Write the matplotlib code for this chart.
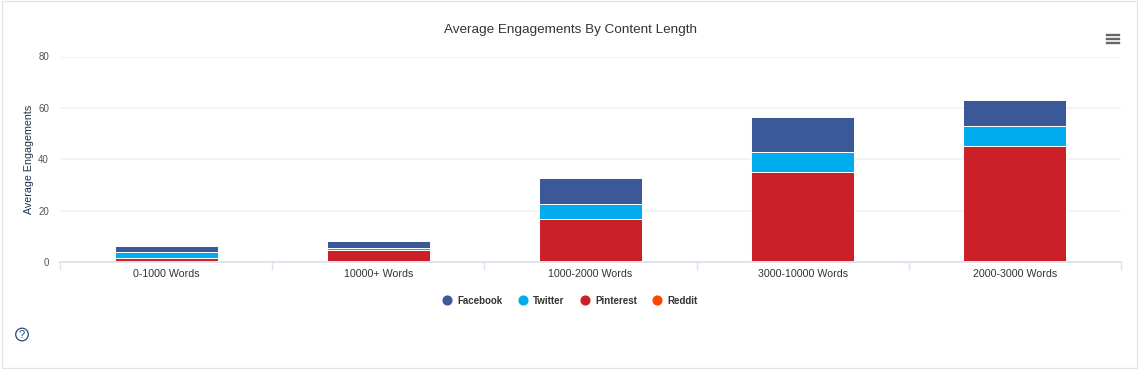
import matplotlib
matplotlib.use("Agg")
import matplotlib.pyplot as plt
from matplotlib.lines import Line2D
from matplotlib.patches import Rectangle, Circle
import numpy as np

W, H = 1139, 369

categories = ["0-1000 Words", "10000+ Words", "1000-2000 Words", "3000-10000 Words", "2000-3000 Words"]
reddit = [0.0, 0.0, 0.0, 0.0, 0.0]
pinterest = [1.5, 4.6, 16.6, 35.0, 45.1]
twitter = [2.3, 0.7, 5.9, 7.7, 8.0]
facebook = [2.3, 2.8, 10.3, 13.9, 10.0]
y_ticks = [0, 20, 40, 60, 80]

series_names = ["Facebook", "Twitter", "Pinterest", "Reddit"]
series_colors = ["#3b5998", "#00acee", "#cb2027", "#ff4500"]

plt.rcParams["font.family"] = ["Liberation Sans", "DejaVu Sans"]

fig = plt.figure(figsize=(W / 100, H / 100), dpi=100)
ax = fig.add_axes([60 / W, 1 - 262 / H, (1121 - 60) / W, (262 - 56.5) / H])

# stack bottom up, same order as the highcharts original
x = np.arange(len(categories))
bottom = np.zeros(len(categories))
for vals, col in [(reddit, series_colors[3]), (pinterest, series_colors[2]),
                  (twitter, series_colors[1]), (facebook, series_colors[0])]:
    vals = np.array(vals)
    ax.bar(x, vals, 0.485, bottom=bottom, color=col, edgecolor="white", linewidth=0.7, zorder=3)
    bottom = bottom + vals

ax.set_xlim(-0.5, 4.5)
ax.set_ylim(0, 80)
ax.set_yticks(y_ticks)
ax.set_yticklabels(y_ticks, fontsize=7, color="#555555")
ax.tick_params(axis="y", length=0, pad=8)
ax.set_xticks(x)
ax.set_xticklabels(categories, fontsize=7.7, color="#333333")
ax.tick_params(axis="x", length=0, pad=5)
ax.set_xticks(np.arange(-0.5, 5, 1), minor=True)
ax.tick_params(axis="x", which="minor", length=5.5, width=1, color="#dfe3ef")
ax.grid(axis="y", color="#f2f2f4", linewidth=1.2, zorder=0)
ax.set_axisbelow(True)
for s in ["top", "left", "right"]:
    ax.spines[s].set_visible(False)
ax.spines["bottom"].set_color("#dfe3ef")
ax.spines["bottom"].set_linewidth(1.4)
ax.spines["bottom"].set_zorder(4)

fig.text(570 / W, 1 - 29.5 / H, "Average Engagements By Content Length", fontsize=9.7,
         color="#333333", ha="center", va="center")
fig.text(28.5 / W, 1 - 159 / H, "Average Engagements", fontsize=7.7, color="#1f3350",
         rotation=90, ha="center", va="center")

# legend
handles = [Line2D([], [], marker="o", linestyle="none", markersize=6.3, color=c) for c in series_colors]
fig.legend(handles, series_names, loc="center", bbox_to_anchor=(570 / W, 1 - 300.5 / H), ncol=4,
           frameon=False, prop={"size": 7, "weight": "bold"}, labelcolor="#333333",
           handlelength=1, handletextpad=0.55, columnspacing=1.6)

# card border, menu icon, help icon
fig.add_artist(Rectangle((1.5 / W, 1 / H), (W - 3.5) / W, (H - 1.5) / H, transform=fig.transFigure,
                         fill=False, edgecolor="#e3e3e3", linewidth=0.9))
for yy in [34.5, 39, 43]:
    fig.add_artist(Line2D([1107 / W, 1119 / W], [1 - yy / H, 1 - yy / H], color="#666666", linewidth=1.7))
fig.add_artist(Circle((22, H - 334.5), 6.3, transform=None, fill=False,
                      edgecolor="#1f4e79", linewidth=0.9))
fig.text(22 / W, 1 - 334.5 / H, "?", fontsize=8, color="#1f4e79", ha="center", va="center")

fig.savefig("out.png", dpi=100)
